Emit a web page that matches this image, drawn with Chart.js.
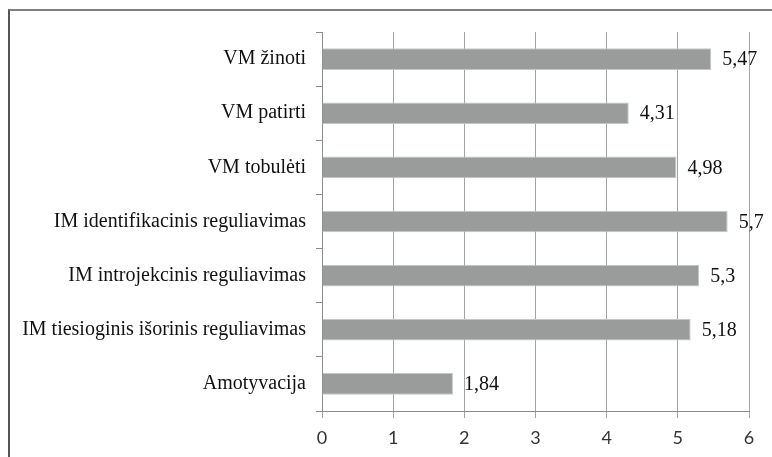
<!DOCTYPE html>
<html>
<head>
<meta charset="utf-8">
<script src="https://cdn.jsdelivr.net/npm/chart.js@4/dist/chart.umd.min.js"></script>
<style>
  html, body { margin: 0; padding: 0; background: #fff; }
  #wrap { position: relative; width: 772px; height: 457px; overflow: hidden; }
  #frame { position: absolute; left: 8px; top: 9px; width: 800px; height: 500px;
           border-top: 2px solid #808080; border-left: 2px solid #555; box-sizing: border-box; }
  canvas { position: absolute; left: 0; top: 0; }
</style>
</head>
<body>
<div id="wrap">
  <div id="frame"></div>
  <canvas id="c" width="772" height="457"></canvas>
</div>
<script>
// Motyvacijos skalių vidurkiai
const categories = [
  "VM žinoti",
  "VM patirti",
  "VM tobulėti",
  "IM identifikacinis reguliavimas",
  "IM introjekcinis reguliavimas",
  "IM tiesioginis išorinis reguliavimas",
  "Amotyvacija"
];
const values = [5.47, 4.31, 4.98, 5.7, 5.3, 5.18, 1.84];
const xTicks = [0, 1, 2, 3, 4, 5, 6];

const serif = "'Liberation Serif', 'Times New Roman', serif";

// Writes each bar's value (with a decimal comma) just past its end
const valueLabels = {
  id: 'valueLabels',
  afterDatasetsDraw(chart) {
    const ctx = chart.ctx;
    const meta = chart.getDatasetMeta(0);
    ctx.save();
    ctx.font = "20px " + serif;
    ctx.fillStyle = "#111";
    ctx.textAlign = "left";
    ctx.textBaseline = "middle";
    meta.data.forEach((bar, i) => {
      const txt = String(values[i]).replace('.', ',');
      ctx.fillText(txt, bar.x + 11, bar.y + 1);
    });
    ctx.restore();
  }
};

new Chart(document.getElementById('c'), {
  type: 'bar',
  data: {
    labels: categories,
    datasets: [{
      data: values,
      backgroundColor: '#9a9c9c',
      borderColor: '#c4c6c6',
      borderWidth: 1,
      categoryPercentage: 0.8,
      barPercentage: 0.5
    }]
  },
  options: {
    indexAxis: 'y',
    responsive: false,
    animation: false,
    layout: { padding: { top: 32, right: 23, bottom: 0, left: 0 } },
    plugins: { legend: { display: false }, tooltip: { enabled: false } },
    scales: {
      x: {
        min: 0, max: 6,
        afterBuildTicks(scale) { scale.ticks = xTicks.map(v => ({ value: v })); },
        afterFit(scale) { scale.height = 46; },
        grid: { color: '#a3a3a3', lineWidth: 1, tickLength: 7, drawOnChartArea: true },
        border: { color: '#8c8c8c', width: 1 },
        ticks: { font: { family: 'Lato, sans-serif', size: 18 }, color: '#333', padding: 9 }
      },
      y: {
        afterFit(scale) { scale.width = 322; },
        grid: { drawOnChartArea: false, drawTicks: true, tickLength: 6, color: '#8c8c8c' },
        border: { color: '#8c8c8c', width: 1 },
        ticks: { font: { family: serif, size: 20 }, color: '#111', padding: 10 }
      }
    }
  },
  plugins: [valueLabels]
});
</script>
</body>
</html>
